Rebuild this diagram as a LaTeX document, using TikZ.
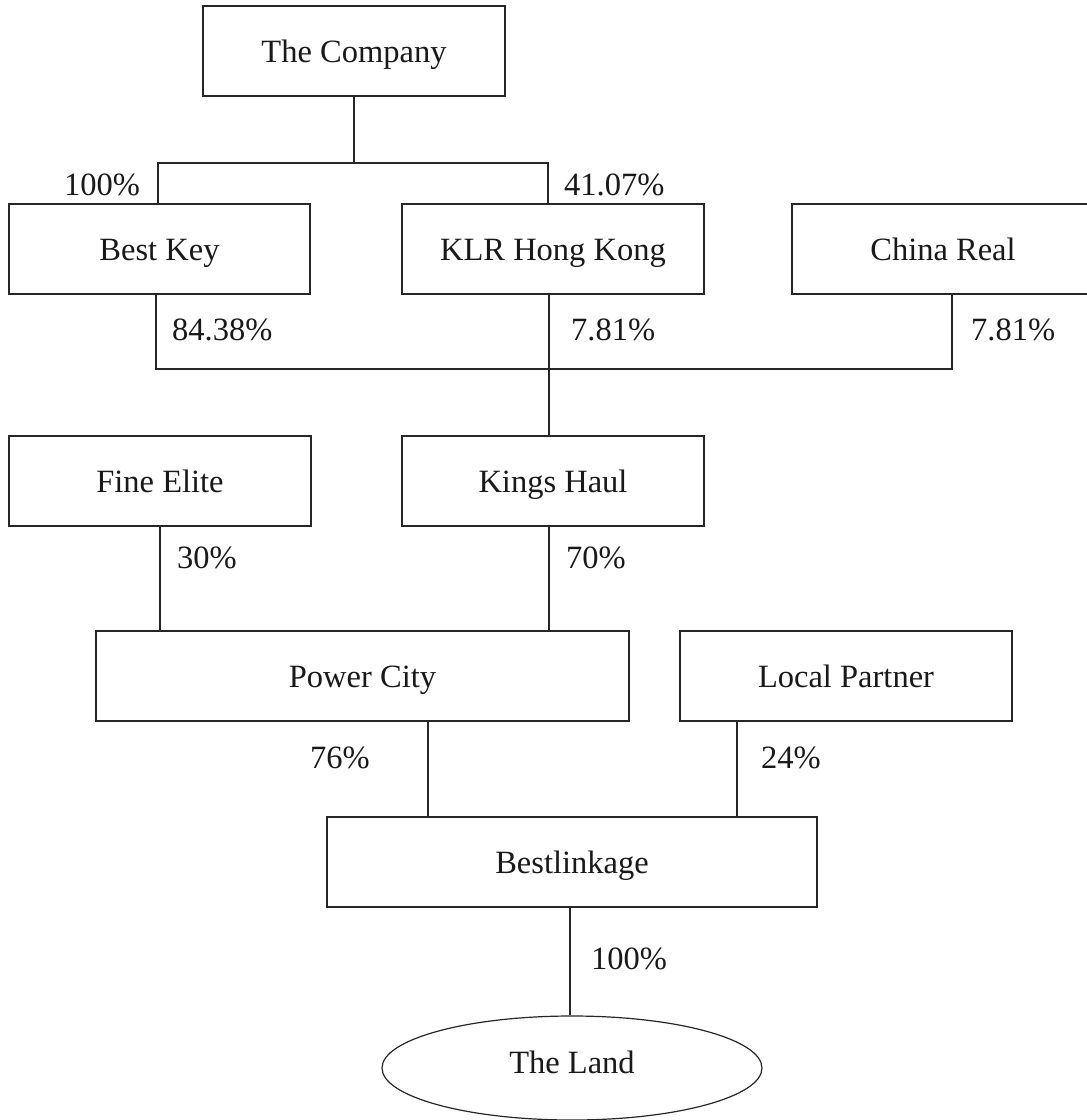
\documentclass[tikz,border=0pt]{standalone}
\usepackage{fontspec}
\setmainfont{Liberation Serif}
\usetikzlibrary{shapes.geometric}
\tikzset{
  every node/.style={font=\fontsize{32.5}{39}\selectfont, text=black!90},
  entbox/.style={draw=black!85, line width=1.2pt, rectangle, inner sep=0pt, minimum height=90pt, text height=22pt, text depth=0pt},
  landshape/.style={draw=black!85, line width=1.2pt, ellipse, inner sep=0pt, minimum width=380pt, minimum height=104pt, text height=10pt, text depth=0pt},
  link/.style={draw=black!85, line width=1.2pt},
  pct/.style={anchor=base west, inner sep=0pt}
}
\begin{document}
\begin{tikzpicture}[x=1pt,y=-1pt]
\useasboundingbox (0,0) rectangle (1087,1120);
% entities
\node[entbox, minimum width=302pt] (company) at (354,51) {The Company};
\node[entbox, minimum width=301pt] (bestkey) at (159.5,249) {Best Key};
\node[entbox, minimum width=302pt] (klr) at (553,249) {KLR Hong Kong};
\node[entbox, minimum width=302pt] (china) at (943,249) {China Real};
\node[entbox, minimum width=302pt] (fine) at (160,481) {Fine Elite};
\node[entbox, minimum width=302pt] (kings) at (553,481) {Kings Haul};
\node[entbox, minimum width=533pt] (power) at (362.5,676) {Power City};
\node[entbox, minimum width=332pt] (local) at (846,676) {Local Partner};
\node[entbox, minimum width=490pt] (bestlink) at (572,862) {Bestlinkage};
\node[landshape] (land) at (572,1068) {The Land};
% junction coordinates
\coordinate (ja) at (158,163);
\coordinate (jb) at (548,163);
\coordinate (jc) at (156,369);
\coordinate (jd) at (952,369);
\coordinate (je) at (549,369);
% connectors
\draw[link] (company.south) -- (company.south |- ja);
\draw[link] (bestkey.north -| ja) |- (jb) -- (klr.north -| jb);
\draw[link] (bestkey.south -| jc) |- (jd) -- (china.south -| jd);
\draw[link] (klr.south -| je) -- (kings.north -| je);
\draw[link] (fine.south -| 160,0) -- (power.north -| 160,0);
\draw[link] (kings.south -| je) -- (power.north -| je);
\draw[link] (power.south -| 428,0) -- (bestlink.north -| 428,0);
\draw[link] (local.south -| 737,0) -- (bestlink.north -| 737,0);
\draw[link] (bestlink.south -| 570,0) -- (land.north -| 570,0);
% percentages
\node[pct] (p1) at (64,195) {100\%};
\node[pct] (p2) at (564,195) {41.07\%};
\node[pct] (p3) at (172,340) {84.38\%};
\node[pct] (p4) at (571,340) {7.81\%};
\node[pct] (p5) at (971,340) {7.81\%};
\node[pct] (p6) at (177,568) {30\%};
\node[pct] (p7) at (566,568) {70\%};
\node[pct] (p8) at (310,768) {76\%};
\node[pct] (p9) at (761,768) {24\%};
\node[pct] (p10) at (591,969) {100\%};
\end{tikzpicture}
\end{document}
